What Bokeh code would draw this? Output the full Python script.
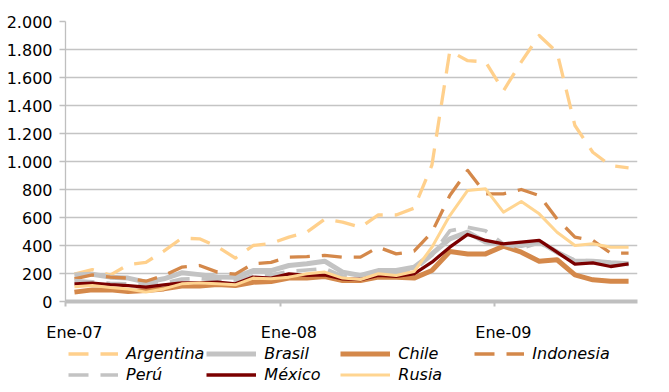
from bokeh.plotting import figure
from bokeh.layouts import column
from bokeh.models import Range1d, FixedTicker, Legend, LegendItem, CustomJSTickFormatter
from bokeh.embed import file_html
from bokeh.resources import INLINE

# ---- data (monthly, Ene-07 .. Ago-09) ----
months = list(range(32))
x_tick_pos = [0, 12, 24]
x_tick_labels = ["Ene-07", "Ene-08", "Ene-09"]
y_ticks = [0, 200, 400, 600, 800, 1000, 1200, 1400, 1600, 1800, 2000]

argentina = [195, 228, 188, 262, 280, 360, 452, 448, 392, 310, 400, 415, 460, 495, 588, 567,
             530, 618, 618, 667, 975, 1790, 1720, 1712, 1505, 1712, 1900, 1780, 1257, 1066, 970, 955]
brasil = [190, 195, 174, 167, 138, 162, 205, 192, 175, 174, 221, 221, 257, 269, 288, 210,
          186, 221, 221, 245, 340, 448, 495, 424, 405, 400, 429, 352, 288, 288, 276, 269]
chile = [67, 83, 83, 71, 79, 90, 110, 110, 121, 114, 138, 143, 167, 167, 179, 150,
         150, 174, 174, 167, 221, 357, 340, 340, 395, 352, 288, 298, 190, 155, 145, 145]
indonesia = [162, 190, 174, 167, 145, 186, 245, 257, 210, 195, 270, 280, 317, 321, 329, 317,
             317, 388, 340, 360, 495, 757, 936, 769, 769, 800, 757, 590, 460, 436, 345, 345]
peru = [150, 140, 130, 125, 115, 130, 160, 165, 150, 150, 185, 190, 215, 225, 235, 180,
        165, 195, 200, 225, 330, 505, 530, 505, 410, 380, 420, 350, 295, 290, 275, 265]
mexico = [126, 131, 121, 114, 102, 119, 133, 133, 138, 126, 174, 167, 198, 186, 190, 162,
          157, 186, 179, 198, 281, 388, 479, 436, 412, 424, 436, 352, 267, 276, 250, 269]
rusia = [105, 114, 100, 90, 67, 90, 126, 133, 126, 119, 167, 162, 174, 198, 210, 167,
         157, 198, 186, 214, 388, 614, 793, 805, 638, 714, 626, 495, 400, 412, 388, 388]

FONT = "DejaVu Sans"
DASH = "20 12"
series = [
    ("Argentina", argentina, "#FFD08C", 3.3, DASH),
    ("Brasil", brasil, "#C3C3C3", 5, "solid"),
    ("Chile", chile, "#D4884A", 5, "solid"),
    ("Indonesia", indonesia, "#D4884A", 3.3, DASH),
    ("Perú", peru, "#C3C3C3", 3.7, DASH),
    ("México", mexico, "#7B0000", 3.3, "solid"),
    ("Rusia", rusia, "#FFD591", 3, "solid"),
]

# ---------------- chart ----------------
p = figure(frame_width=572, frame_height=280, output_backend="svg", toolbar_location=None,
           x_range=Range1d(-0.5, 31.5), y_range=Range1d(0, 2000),
           min_border_left=65, min_border_right=16, min_border_top=21, min_border_bottom=0)
p.outline_line_color = None
p.background_fill_color = "white"
p.border_fill_color = "white"

p.yaxis.ticker = FixedTicker(ticks=y_ticks)
p.yaxis.formatter = CustomJSTickFormatter(
    code="return Math.round(tick).toString().replace(/\\B(?=(\\d{3})+(?!\\d))/g, '.');")
p.yaxis.axis_line_color = "#BFBFBF"
p.yaxis.axis_line_width = 1.3
p.yaxis.major_tick_in = 0
p.yaxis.major_tick_out = 6
p.yaxis.major_tick_line_color = "#BFBFBF"
p.yaxis.major_tick_line_width = 1.3
p.yaxis.minor_tick_line_color = None
p.yaxis.major_label_standoff = 7
p.yaxis.major_label_text_font = FONT
p.yaxis.major_label_text_font_size = "16px"
p.yaxis.major_label_text_color = "#000000"

p.xaxis.ticker = FixedTicker(ticks=x_tick_pos, minor_ticks=[-0.5, 11.5, 23.5])
p.xaxis.major_label_overrides = dict(zip(x_tick_pos, x_tick_labels))
p.xaxis.axis_line_color = "#BFBFBF"
p.xaxis.axis_line_width = 4
p.xaxis.major_tick_line_color = None
p.xaxis.major_tick_in = 0
p.xaxis.major_tick_out = 0
p.xaxis.minor_tick_in = 0
p.xaxis.minor_tick_out = 5
p.xaxis.minor_tick_line_color = "#BFBFBF"
p.xaxis.minor_tick_line_width = 2
p.xaxis.major_label_standoff = 16
p.xaxis.major_label_text_font = FONT
p.xaxis.major_label_text_font_size = "16px"
p.xaxis.major_label_text_color = "#000000"

p.xgrid.visible = False
p.ygrid.ticker = FixedTicker(ticks=y_ticks)
p.ygrid.grid_line_color = "#C4C4C4"
p.ygrid.grid_line_width = 1.3

for name, vals, color, lw, dash in series:
    p.line(months, vals, line_color=color, line_width=lw, line_dash=dash, line_join="round")

# ---------------- legend strip ----------------
# same series, drawn outside this strip's visible range; only the legend shows
q = figure(width=653, height=40, output_backend="svg", toolbar_location=None,
           x_range=Range1d(-0.5, 31.5), y_range=Range1d(-3, -2),
           x_axis_location=None, y_axis_location=None,
           min_border_left=0, min_border_right=0, min_border_top=0, min_border_bottom=0)
q.outline_line_color = None
q.grid.visible = False
q.background_fill_color = "white"
q.border_fill_color = "white"

items = []
for name, vals, color, lw, dash in series:
    r = q.line(months, vals, line_color=color, line_width=lw, line_dash=dash, line_join="round")
    items.append(LegendItem(label=name, renderers=[r]))

legend = Legend(items=items, location=(3, 0), orientation="horizontal", ncols=4,
                glyph_width=50, glyph_height=19, label_height=19, label_width=74,
                label_standoff=8, spacing=2, padding=0, margin=0,
                border_line_color=None, background_fill_alpha=0,
                label_text_font=FONT, label_text_font_size="16px",
                label_text_font_style="italic", label_text_color="#000000")
q.add_layout(legend, "center")

layout = column(p, q, spacing=0)
open("out.html", "w").write(file_html(layout, INLINE))
